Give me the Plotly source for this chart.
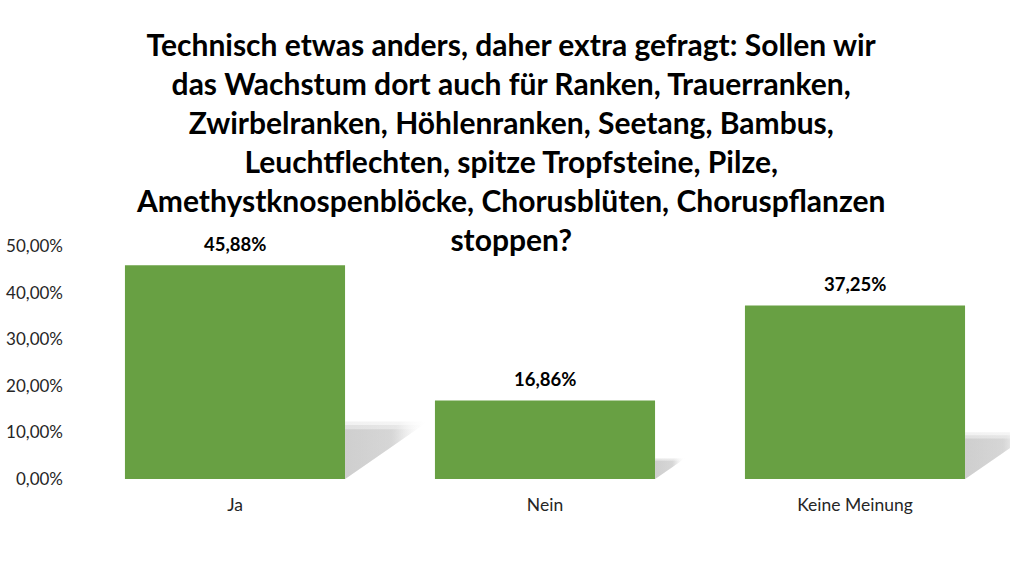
import plotly.graph_objects as go

categories = ["Ja", "Nein", "Keine Meinung"]
values = [45.88, 16.86, 37.25]
y_ticks = [0, 10, 20, 30, 40, 50]
y_tick_labels = ["0,00%", "10,00%", "20,00%", "30,00%", "40,00%", "50,00%"]
title_lines = [
    "Technisch etwas anders, daher extra gefragt: Sollen wir",
    "das Wachstum dort auch für Ranken, Trauerranken,",
    "Zwirbelranken, Höhlenranken, Seetang, Bambus,",
    "Leuchtflechten, spitze Tropfsteine, Pilze,",
    "Amethystknospenblöcke, Chorusblüten, Choruspflanzen",
    "stoppen?",
]

FONT = "Lato"
BAR_W = 0.71
idx = list(range(len(categories)))

fig = go.Figure()

# soft perspective shadows to the right of each bar (derived from the bar values)
half = BAR_W / 2
for i, v in zip(idx, values):
    hs = 0.24 * v
    dx = 1.45 * hs * 4.66 / 311
    for grow, alpha in [(1.12, 0.25), (1.05, 0.4), (0.97, 0.75)]:
        h = hs * grow
        d = dx * grow
        fig.add_trace(go.Scatter(
            x=[i + half, i + half, i + half + d, i + half],
            y=[0, h, h, 0],
            mode="lines", line=dict(width=0), fill="toself",
            fillgradient=dict(type="horizontal",
                              colorscale=[[0, f"rgba(200,200,200,{alpha})"],
                                          [0.65, f"rgba(205,205,205,{alpha*0.85})"],
                                          [1, "rgba(240,240,240,0)"]]),
            hoverinfo="skip", showlegend=False,
        ))

fig.add_trace(go.Bar(
    x=idx, y=values, width=BAR_W,
    marker=dict(color="#68A043", line=dict(width=0)),
    showlegend=False, hoverinfo="skip",
))

for i, v in zip(idx, values):
    fig.add_annotation(
        x=i, y=v, xref="x", yref="y", yanchor="bottom", yshift=8,
        text="<b>" + f"{v:.2f}".replace(".", ",") + "%</b>",
        showarrow=False, font=dict(family=FONT, size=18.5, color="#000000"),
    )

fig.add_annotation(
    x=(508 - 76) / 934, y=1 + (246 - 24) / 233, xref="paper", yref="paper",
    xanchor="center", yanchor="top", align="center", showarrow=False,
    text="<b>" + "<br>".join(title_lines) + "</b>",
    font=dict(family=FONT, size=30, color="#000000"),
)

fig.update_layout(
    width=1016, height=567,
    margin=dict(l=76, r=6, t=246, b=88),
    paper_bgcolor="white", plot_bgcolor="white",
    xaxis=dict(
        range=[-0.5, 2.5], tickvals=idx, ticktext=categories,
        showgrid=False, zeroline=False, showline=False, ticks="",
        tickfont=dict(family=FONT, size=17.5, color="#262626"),
        ticklabelstandoff=13, fixedrange=True,
    ),
    yaxis=dict(
        range=[0, 50], tickvals=y_ticks, ticktext=y_tick_labels,
        showgrid=False, zeroline=False, showline=False, ticks="",
        tickfont=dict(family=FONT, size=17, color="#262626"),
        ticklabelstandoff=16, fixedrange=True,
    ),
)

fig.write_html("out.html")
